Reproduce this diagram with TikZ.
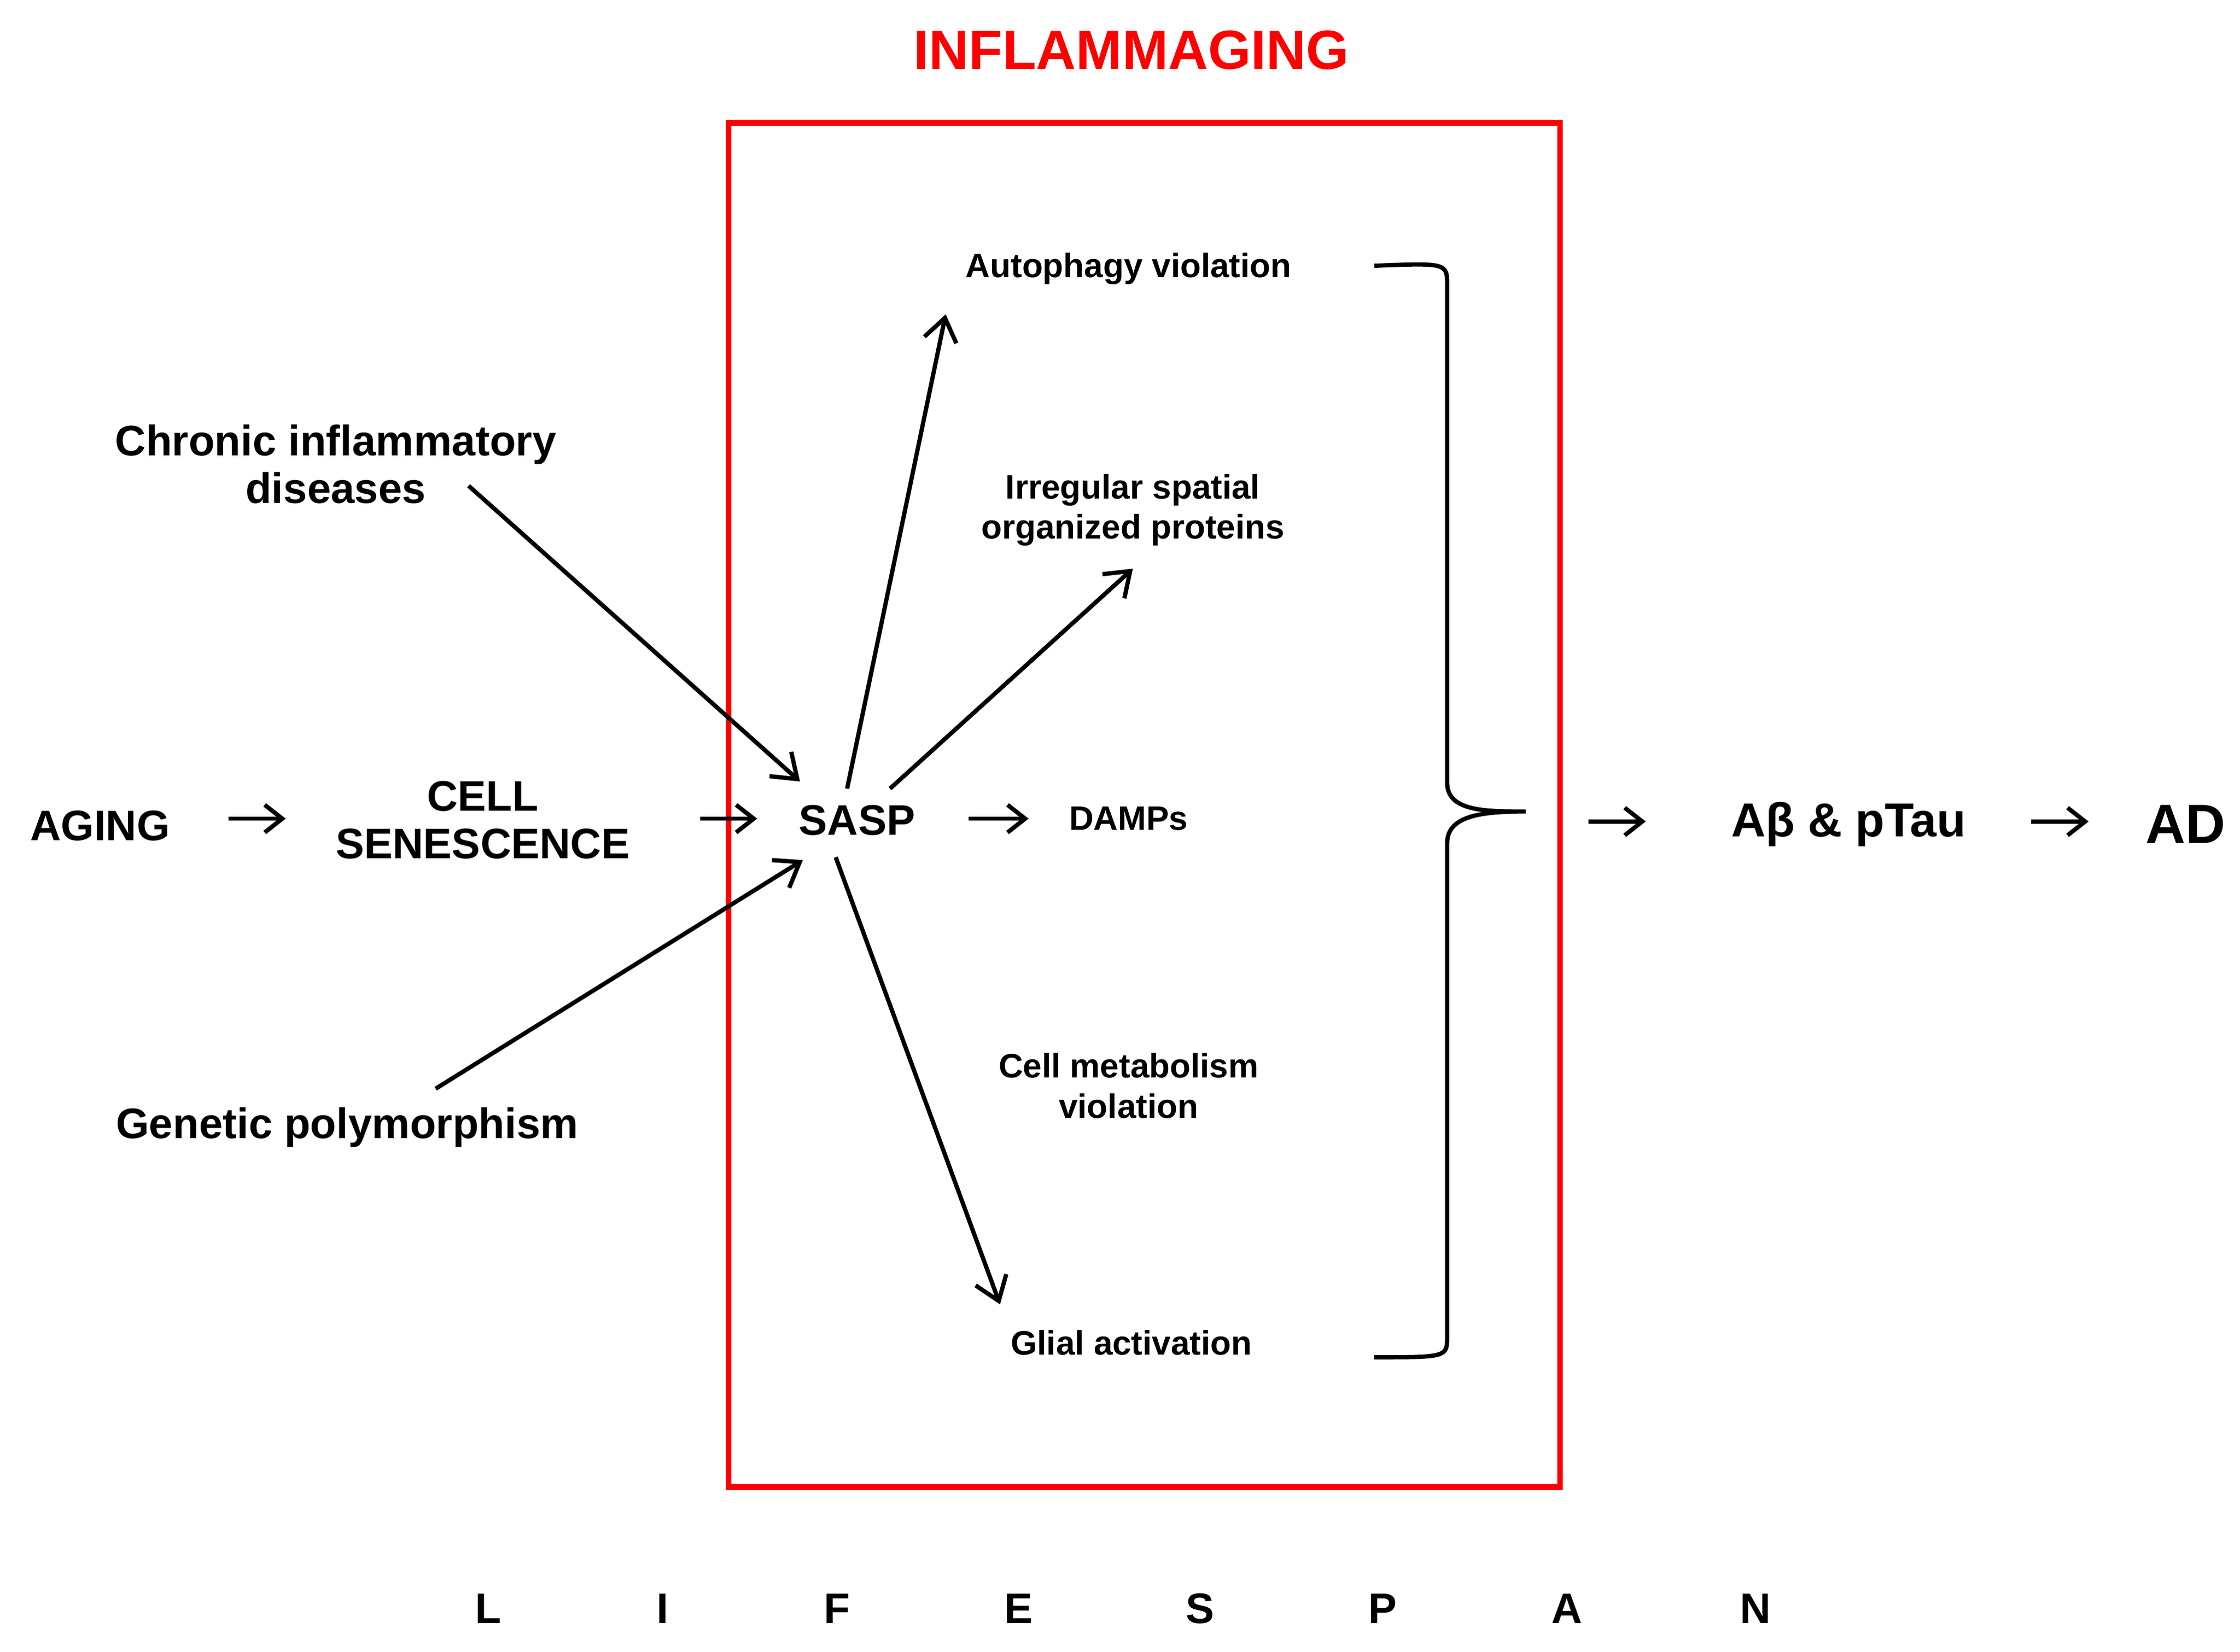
\documentclass[tikz,border=0pt]{standalone}
\usepackage{fontspec}
\setmainfont{Liberation Sans}
\usetikzlibrary{arrows.meta}
\begin{document}
\begin{tikzpicture}[x=0.02cm,y=-0.02cm,
  big/.style={font=\fontsize{17}{19}\selectfont\bfseries,align=center,inner sep=0pt},
  small/.style={font=\fontsize{13.5}{16}\selectfont\bfseries,align=center,inner sep=0pt},
  arr/.style={line width=1.7pt,-{Straight Barb[length=9pt,width=13pt,line width=1.7pt]}},
  sarr/.style={line width=1.7pt,-{Straight Barb[length=7pt,width=11pt,line width=1.7pt]}}]
\useasboundingbox (0,0) rectangle (1568,1156);
\node[big,red,font=\fontsize{22}{24}\selectfont\bfseries] (title) at (792,35) {INFLAMMAGING};
\draw[red,line width=2.3pt] (510,86) rectangle (1092,1041);
\node[small] (auto) at (790,188) {Autophagy violation};
\node[small] (irr) at (793,357) {Irregular spatial\\organized proteins};
\node[small] (damps) at (790,573) {DAMPs};
\node[small] (cmv) at (790,760) {Cell metabolism\\violation};
\node[small] (glial) at (792,940) {Glial activation};
\node[big] (sasp) at (600,574) {SASP};
\node[big] (aging) at (70,578) {AGING};
\node[big] (cell) at (338,574) {CELL\\SENESCENCE};
\node[big] (chron) at (235,325) {Chronic inflammatory\\diseases};
\node[big] (gen) at (243,789) {Genetic polymorphism};
\node[big,font=\fontsize{19}{21}\selectfont\bfseries] (abeta) at (1294,577) {Aβ \& pTau};
\node[big,font=\fontsize{22}{24}\selectfont\bfseries] (ad) at (1530,577) {AD};
\foreach \l/\x in {L/342,I/464,F/586,E/713,S/840,P/968,A/1097,N/1229}
  \node[big] (ls\l) at (\x,1126) {\l};
\coordinate (a1) at (160,573); \coordinate (a2) at (200,573);
\coordinate (b1) at (490,573); \coordinate (b2) at (530,573);
\coordinate (c1) at (678,573); \coordinate (c2) at (720,573);
\coordinate (d1) at (328,340); \coordinate (d2) at (560,547);
\coordinate (e1) at (305,762); \coordinate (e2) at (562,602);
\coordinate (f1) at (593,552); \coordinate (f2) at (662,220);
\coordinate (g1) at (623,552); \coordinate (g2) at (793,398);
\coordinate (h1) at (585,600); \coordinate (h2) at (700,913);
\coordinate (i1) at (1112,575); \coordinate (i2) at (1152,575);
\coordinate (j1) at (1422,575); \coordinate (j2) at (1462,575);
\foreach \p in {a,b,c,i,j} \draw[sarr] (\p1) -- (\p2);
\foreach \p in {d,e,f,g,h} \draw[arr] (\p1) -- (\p2);
\draw[line width=1.7pt] (962,186) .. controls (1013,184) .. (1013,200) -- (1013,548)
  .. controls (1013,568) and (1040,568) .. (1068,568)
  .. controls (1040,568) and (1013,570) .. (1013,590) -- (1013,935)
  .. controls (1013,950) .. (962,950);
\end{tikzpicture}
\end{document}
